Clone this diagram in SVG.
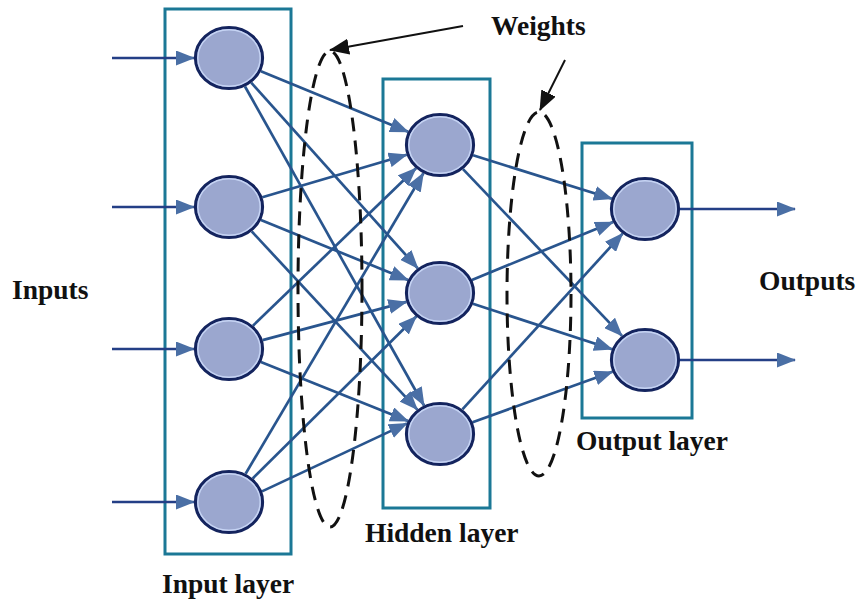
<svg xmlns="http://www.w3.org/2000/svg" width="859" height="602" viewBox="0 0 859 602">
<style>
.box{fill:none;stroke:#1b7896;stroke-width:3}
.conn{stroke:#29558e;stroke-width:2.7;fill:none}
.io{stroke:#243f86;stroke-width:2.7;fill:none}
.node{fill:#9ba7cf;stroke:#14245e;stroke-width:3.2}
.ring{fill:none;stroke:#c6d4f4;stroke-width:1.5}
.lbl{font-family:"Liberation Serif","Times New Roman",serif;font-weight:bold;font-size:27.5px;fill:#111}
.dash{fill:none;stroke:#111;stroke-width:3;stroke-dasharray:14 9}
.warr{stroke:#111;stroke-width:2;fill:none}
</style>
<defs>
<marker id="ah" markerUnits="userSpaceOnUse" markerWidth="19" markerHeight="15" refX="18" refY="7.5" orient="auto">
<path d="M0,0 L19,7.5 L0,15 z" fill="#4a6fa5"/>
</marker>
<marker id="bh" markerUnits="userSpaceOnUse" markerWidth="20" markerHeight="16" refX="19" refY="8" orient="auto">
<path d="M0,0 L20,8 L0,16 z" fill="#111"/>
</marker>
</defs>
<rect width="859" height="602" fill="#fff"/>
<g id="layers">
<rect id="input-layer-box" class="box" x="165" y="9" width="126" height="545"/>
<rect id="hidden-layer-box" class="box" x="383" y="79" width="107" height="429"/>
<rect id="output-layer-box" class="box" x="582" y="143" width="110" height="275"/>
</g>
<g id="connectors">
<line class="io" x1="112" y1="58" x2="194" y2="58" marker-end="url(#ah)"/>
<line class="io" x1="112" y1="207" x2="194" y2="207" marker-end="url(#ah)"/>
<line class="io" x1="112" y1="349" x2="194" y2="349" marker-end="url(#ah)"/>
<line class="io" x1="112" y1="502" x2="194" y2="502" marker-end="url(#ah)"/>
<line class="conn" x1="260.9" y1="71.2" x2="408.1" y2="131.8" marker-end="url(#ah)"/>
<line class="conn" x1="251.2" y1="82.7" x2="417.8" y2="268.3" marker-end="url(#ah)"/>
<line class="conn" x1="245.0" y1="86.5" x2="424.0" y2="405.5" marker-end="url(#ah)"/>
<line class="conn" x1="262.3" y1="197.2" x2="406.7" y2="154.8" marker-end="url(#ah)"/>
<line class="conn" x1="260.9" y1="220.0" x2="408.1" y2="280.0" marker-end="url(#ah)"/>
<line class="conn" x1="251.7" y1="231.4" x2="417.3" y2="409.6" marker-end="url(#ah)"/>
<line class="conn" x1="253.0" y1="325.7" x2="416.0" y2="168.3" marker-end="url(#ah)"/>
<line class="conn" x1="262.6" y1="340.1" x2="406.4" y2="301.9" marker-end="url(#ah)"/>
<line class="conn" x1="260.9" y1="361.9" x2="408.1" y2="421.1" marker-end="url(#ah)"/>
<line class="conn" x1="245.6" y1="473.8" x2="423.4" y2="173.2" marker-end="url(#ah)"/>
<line class="conn" x1="252.7" y1="478.5" x2="416.3" y2="316.5" marker-end="url(#ah)"/>
<line class="conn" x1="262.0" y1="491.4" x2="407.0" y2="423.4" marker-end="url(#ah)"/>
<line class="conn" x1="473.1" y1="155.3" x2="611.9" y2="198.7" marker-end="url(#ah)"/>
<line class="conn" x1="463.0" y1="169.1" x2="622.0" y2="335.9" marker-end="url(#ah)"/>
<line class="conn" x1="471.9" y1="279.9" x2="613.1" y2="222.1" marker-end="url(#ah)"/>
<line class="conn" x1="472.9" y1="303.8" x2="612.1" y2="349.2" marker-end="url(#ah)"/>
<line class="conn" x1="462.4" y1="409.4" x2="622.6" y2="233.6" marker-end="url(#ah)"/>
<line class="conn" x1="472.6" y1="422.2" x2="612.4" y2="371.8" marker-end="url(#ah)"/>
<line class="io" x1="680" y1="209" x2="795" y2="209" marker-end="url(#ah)"/>
<line class="io" x1="680" y1="360" x2="795" y2="360" marker-end="url(#ah)"/>
</g>
<g id="input-1"><ellipse class="node" cx="229" cy="58" rx="33.5" ry="30.5"/><ellipse class="ring" cx="229" cy="58" rx="31.2" ry="28.2"/></g>
<g id="input-2"><ellipse class="node" cx="229" cy="207" rx="33.5" ry="30.5"/><ellipse class="ring" cx="229" cy="207" rx="31.2" ry="28.2"/></g>
<g id="input-3"><ellipse class="node" cx="229" cy="349" rx="33.5" ry="30.5"/><ellipse class="ring" cx="229" cy="349" rx="31.2" ry="28.2"/></g>
<g id="input-4"><ellipse class="node" cx="229" cy="502" rx="33.5" ry="30.5"/><ellipse class="ring" cx="229" cy="502" rx="31.2" ry="28.2"/></g>
<g id="hidden-1"><ellipse class="node" cx="440" cy="145" rx="33.5" ry="30.5"/><ellipse class="ring" cx="440" cy="145" rx="31.2" ry="28.2"/></g>
<g id="hidden-2"><ellipse class="node" cx="440" cy="293" rx="33.5" ry="30.5"/><ellipse class="ring" cx="440" cy="293" rx="31.2" ry="28.2"/></g>
<g id="hidden-3"><ellipse class="node" cx="440" cy="434" rx="33.5" ry="30.5"/><ellipse class="ring" cx="440" cy="434" rx="31.2" ry="28.2"/></g>
<g id="output-1"><ellipse class="node" cx="645" cy="209" rx="33.5" ry="30.5"/><ellipse class="ring" cx="645" cy="209" rx="31.2" ry="28.2"/></g>
<g id="output-2"><ellipse class="node" cx="645" cy="360" rx="33.5" ry="30.5"/><ellipse class="ring" cx="645" cy="360" rx="31.2" ry="28.2"/></g>
<g id="weights">
<ellipse class="dash" cx="330" cy="289" rx="32" ry="238"/>
<ellipse class="dash" cx="539" cy="294" rx="32" ry="182"/>
<line class="warr" x1="463" y1="26" x2="330" y2="50" marker-end="url(#bh)"/>
<line class="warr" x1="565" y1="60" x2="540" y2="110" marker-end="url(#bh)"/>
</g>
<g id="labels">
<text class="lbl" x="12" y="299">Inputs</text>
<text class="lbl" x="491" y="35">Weights</text>
<text class="lbl" x="759" y="290">Outputs</text>
<text class="lbl" x="365" y="542">Hidden layer</text>
<text class="lbl" x="162" y="593">Input layer</text>
<text class="lbl" x="576" y="450">Output layer</text>
</g>
</svg>
